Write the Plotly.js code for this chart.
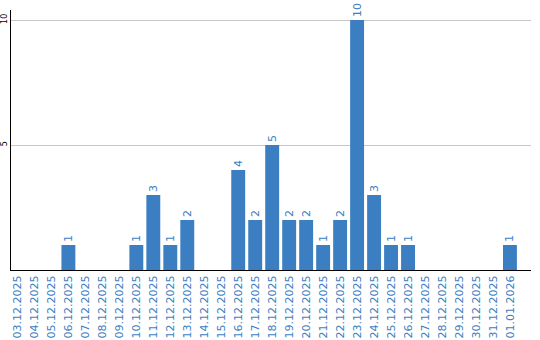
<!DOCTYPE html>
<html>
<head>
<meta charset="utf-8">
<script src="https://cdn.plot.ly/plotly-3.0.1.min.js"></script>
<style>html,body{margin:0;padding:0;background:#fff;}#chart{width:540px;height:340px;}</style>
</head>
<body>
<div id="chart"></div>
<script>
const dates = ["03.12.2025","04.12.2025","05.12.2025","06.12.2025","07.12.2025","08.12.2025","09.12.2025","10.12.2025","11.12.2025","12.12.2025","13.12.2025","14.12.2025","15.12.2025","16.12.2025","17.12.2025","18.12.2025","19.12.2025","20.12.2025","21.12.2025","22.12.2025","23.12.2025","24.12.2025","25.12.2025","26.12.2025","27.12.2025","28.12.2025","29.12.2025","30.12.2025","31.12.2025","01.01.2026"];
const counts = [0,0,0,1,0,0,0,1,3,1,2,0,0,4,2,5,2,2,1,2,10,3,1,1,0,0,0,0,0,1];
const yTicks = [5,10];

const blue = '#3b7ec2';
const trace = {
  type: 'bar',
  x: dates,
  y: counts,
  marker: {color: blue, line: {width: 0}},
  text: counts.map(v => v > 0 ? String(v) : ''),
  textposition: 'outside',
  textangle: -90,
  cliponaxis: false,
  textfont: {family: 'DejaVu Sans', size: 11, color: blue},
  hoverinfo: 'none'
};
const layout = {
  width: 540, height: 340,
  margin: {l: 11, r: 9, t: 10, b: 70},
  paper_bgcolor: '#fff', plot_bgcolor: '#fff',
  showlegend: false,
  bargap: 0.18,
  xaxis: {
    type: 'category',
    range: [-0.38, 30.24],
    showline: true, linecolor: '#000', linewidth: 1,
    showgrid: false, zeroline: false,
    ticks: '', tickangle: -90,
    tickfont: {family: 'DejaVu Sans', size: 11, color: blue},
    fixedrange: true
  },
  yaxis: {
    range: [0, 10.4],
    tickvals: yTicks, ticktext: yTicks.map(String),
    showline: true, linecolor: '#000', linewidth: 1,
    showgrid: true, gridcolor: '#c8c8c8', gridwidth: 1,
    zeroline: false,
    ticks: '', tickangle: -90,
    tickfont: {family: 'DejaVu Sans', size: 8, color: '#000'},
    fixedrange: true
  }
};
Plotly.newPlot('chart', [trace], layout, {displayModeBar: false, staticPlot: true});
</script>
</body>
</html>
